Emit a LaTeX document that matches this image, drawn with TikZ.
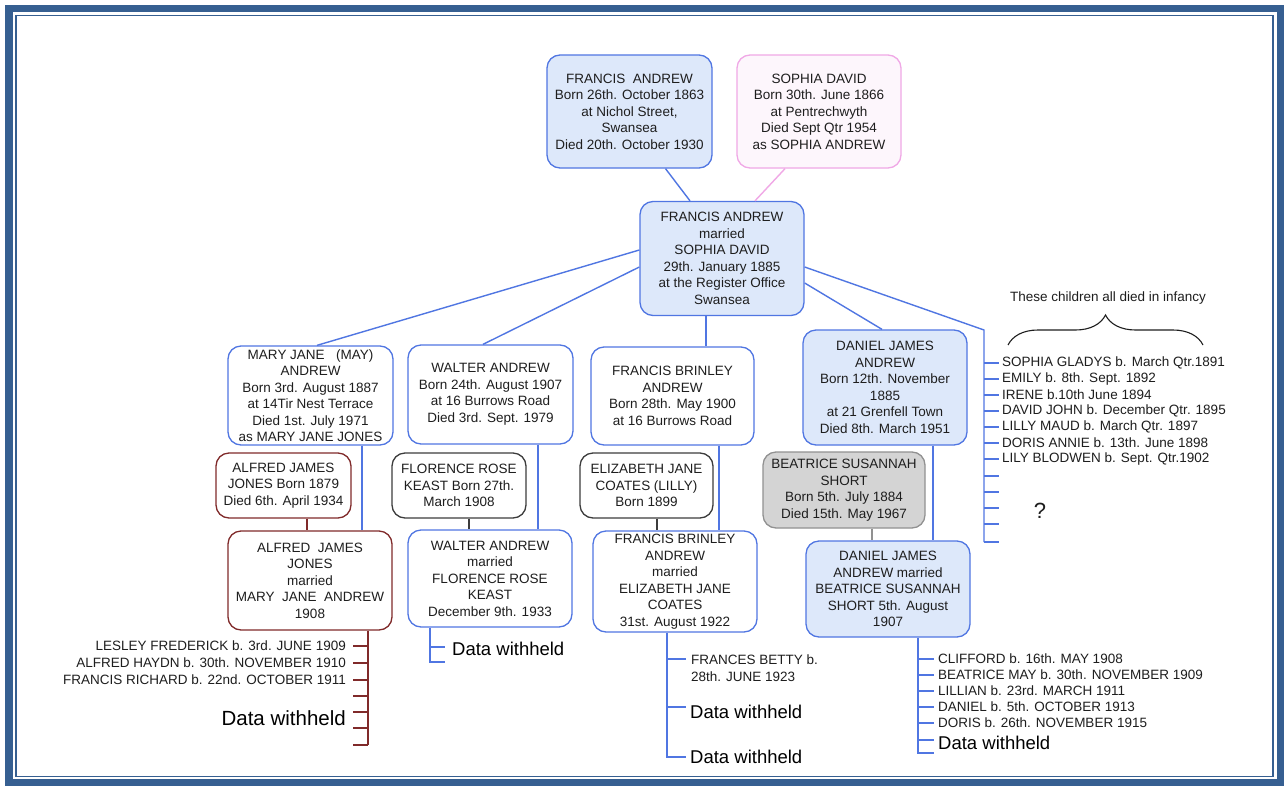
\documentclass[tikz,border=0pt]{standalone}
\usepackage{fontspec}
\setmainfont{Liberation Sans}
\usetikzlibrary{decorations.pathreplacing,calc}
\definecolor{framec}{RGB}{54,95,145}
\definecolor{bluel}{RGB}{80,118,226}
\definecolor{lightblue}{RGB}{221,232,250}
\definecolor{pinkl}{RGB}{240,168,230}
\definecolor{pinkfill}{RGB}{253,246,252}
\definecolor{redl}{RGB}{128,42,42}
\definecolor{darkl}{RGB}{60,60,60}
\definecolor{grayfill}{RGB}{212,212,212}
\definecolor{grayl}{RGB}{145,145,145}
\definecolor{txt}{RGB}{30,30,30}
\begin{document}
\begin{tikzpicture}[x=1pt,y=-1pt,
  box/.style={draw, rounded corners=13pt, align=center, inner sep=2pt,
    font=\fontsize{13.5}{16.5}\selectfont, text=txt, line width=1.3pt},
  bluebox/.style={box, draw=bluel, fill=white},
  lbbox/.style={box, draw=bluel, fill=lightblue},
  pinkbox/.style={box, draw=pinkl, fill=pinkfill},
  redbox/.style={box, draw=redl, fill=white},
  darkbox/.style={box, draw=darkl, fill=white},
  graybox/.style={box, draw=grayl, fill=grayfill},
  bline/.style={draw=bluel, line width=1.4pt},
  rline/.style={draw=redl, line width=1.4pt},
  dline/.style={draw=darkl, line width=1.4pt},
  gline/.style={draw=grayl, line width=1.4pt},
  pline/.style={draw=pinkl, line width=1.4pt},
  lt/.style={font=\fontsize{13.5}{16.5}\selectfont, inner sep=0pt, text=txt},
  dw/.style={font=\fontsize{18.5}{20}\selectfont, inner sep=0pt, text=black},
]
\useasboundingbox (0,0) rectangle (1287,787);
\fill[white] (0,0) rectangle (1287,787);
% frame
\draw[framec, line width=7.5pt] (9,8.5) rectangle (1280.5,782.5);
\draw[framec, line width=1.8pt] (16,15.5) rectangle (1273,776.5);

% parents
\node[lbbox, minimum width=165pt, minimum height=113pt] (fa) at (629.5,111.5)
  {FRANCIS\ \ ANDREW\\Born 26th. October 1863\\at Nichol Street,\\Swansea\\Died 20th. October 1930};
\node[pinkbox, minimum width=164pt, minimum height=113pt] (sd) at (819,111.5)
  {SOPHIA DAVID\\Born 30th. June 1866\\at Pentrechwyth\\Died Sept Qtr 1954\\as SOPHIA ANDREW};
\node[lbbox, minimum width=164pt, minimum height=114pt] (c) at (722,258.5)
  {FRANCIS ANDREW\\married\\SOPHIA DAVID\\29th. January 1885\\at the Register Office\\Swansea};
\draw[bline] ([xshift=36pt]fa.south) -- ([xshift=-32pt]c.north);
\draw[pline] ([xshift=-34pt]sd.south) -- ([xshift=33pt]c.north);

% children
\node[bluebox, minimum width=165pt, minimum height=99pt] (mj) at (310.5,395.5)
  {MARY JANE\ \ \ (MAY)\\ANDREW\\Born 3rd. August 1887\\at 14Tir Nest Terrace\\Died 1st. July 1971\\as MARY JANE JONES};
\node[bluebox, minimum width=165pt, minimum height=99pt] (wa) at (490.5,394.5)
  {WALTER ANDREW\\Born 24th. August 1907\\at 16 Burrows Road\\Died 3rd. Sept. 1979};
\node[bluebox, minimum width=163pt, minimum height=98pt] (fb) at (672.5,396)
  {FRANCIS BRINLEY\\ANDREW\\Born 28th. May 1900\\at 16 Burrows Road};
\node[lbbox, minimum width=164pt, minimum height=115pt] (dj) at (885,387.5)
  {DANIEL JAMES\\ANDREW\\Born 12th. November\\1885\\at 21 Grenfell Town\\Died 8th. March 1951};

\coordinate (inftop) at (984,330);
\coordinate (infbot) at (984,542);
\draw[bline] ([yshift=8.5pt]c.west) -- ([xshift=6.5pt]mj.north);
\draw[bline] ([yshift=-8.5pt]c.west) -- ([xshift=-7.5pt]wa.north);
\draw[bline] ([xshift=-16pt]c.south) -- ([xshift=-16pt]c.south |- fb.north);
\draw[bline] ([yshift=-24.5pt]c.east) -- ([xshift=-3pt]dj.north);
\draw[bline] ([yshift=-8.5pt]c.east) -- (inftop) -- (infbot);

% spouses
\node[redbox, minimum width=135pt, minimum height=65pt] (ajj) at (283.5,485.5)
  {ALFRED JAMES\\JONES Born 1879\\Died 6th. April 1934};
\node[darkbox, minimum width=134pt, minimum height=65pt] (frk) at (459,485.5)
  {FLORENCE ROSE\\KEAST Born 27th.\\March 1908};
\node[darkbox, minimum width=133pt, minimum height=65pt] (ejc) at (646.5,485.5)
  {ELIZABETH JANE\\COATES (LILLY)\\Born 1899};
\node[graybox, minimum width=162pt, minimum height=76pt] (bss) at (844,490)
  {BEATRICE SUSANNAH\\SHORT\\Born 5th. July 1884\\Died 15th. May 1967};

% marriages
\node[redbox, minimum width=164pt, minimum height=99pt] (ajjm) at (310,580.5)
  {ALFRED\ \ JAMES\\JONES\\married\\MARY\ \ JANE\ \ ANDREW\\1908};
\node[bluebox, minimum width=164pt, minimum height=97pt] (wam) at (490,578.5)
  {WALTER ANDREW\\married\\FLORENCE ROSE\\KEAST\\December 9th. 1933};
\node[bluebox, minimum width=164pt, minimum height=101pt] (fbm) at (675,581.5)
  {FRANCIS BRINLEY\\ANDREW\\married\\ELIZABETH JANE\\COATES\\31st. August 1922};
\node[lbbox, minimum width=164pt, minimum height=96pt] (djm) at (888,589)
  {DANIEL JAMES\\ANDREW married\\BEATRICE SUSANNAH\\SHORT 5th. August\\1907};

\draw[bline] ([xshift=51.5pt]mj.south) -- ([xshift=51.5pt]mj.south |- ajjm.north);
\draw[rline] ([xshift=23.5pt]ajj.south) -- ([xshift=23.5pt]ajj.south |- ajjm.north);
\draw[bline] ([xshift=47.5pt]wa.south) -- ([xshift=47.5pt]wa.south |- wam.north);
\draw[dline] ([xshift=10pt]frk.south) -- ([xshift=10pt]frk.south |- wam.north);
\draw[bline] ([xshift=46.5pt]fb.south) -- ([xshift=46.5pt]fb.south |- fbm.north);
\draw[dline] ([xshift=10.5pt]ejc.south) -- ([xshift=10.5pt]ejc.south |- fbm.north);
\draw[bline] ([xshift=48pt]dj.south) -- ([xshift=48pt]dj.south |- djm.north);
\draw[gline] ([xshift=28pt]bss.south) -- ([xshift=28pt]bss.south |- djm.north);

% infancy list
\foreach \y in {363,379,395,411,427,443,459,476,492,508,524,542}
  \draw[bline] (984,\y) -- (999,\y);
\node[lt, anchor=west] (i1) at (1002,363) {SOPHIA GLADYS b. March Qtr.1891};
\node[lt, anchor=west] (i2) at (1002,379) {EMILY b. 8th. Sept. 1892};
\node[lt, anchor=west] (i3) at (1002,395) {IRENE b.10th June 1894};
\node[lt, anchor=west] (i4) at (1002,411) {DAVID JOHN b. December Qtr. 1895};
\node[lt, anchor=west] (i5) at (1002,427) {LILLY MAUD b. March Qtr. 1897};
\node[lt, anchor=west] (i6) at (1002,443) {DORIS ANNIE b. 13th. June 1898};
\node[lt, anchor=west] (i7) at (1002,459) {LILY BLODWEN b. Sept. Qtr.1902};
\node[font=\fontsize{22}{24}\selectfont, text=txt, inner sep=0pt] (q) at (1040,511) {?};
\node[lt] (inf) at (1108,298) {These children all died in infancy};
\draw[txt, line width=1.1pt, decorate, decoration={brace, amplitude=30pt, aspect=0.5}]
  (1008,345) -- (1203,345);

% Alfred list
\coordinate (alb) at (368,745);
\draw[rline] ([xshift=58pt]ajjm.south) -- (alb);
\foreach \y in {646,663,680,696,712,728,745}
  \draw[rline] (353,\y) -- (368,\y);
\node[lt, anchor=east] (a1) at (346,646) {LESLEY FREDERICK b. 3rd. JUNE 1909};
\node[lt, anchor=east] (a2) at (346,663) {ALFRED HAYDN b. 30th. NOVEMBER 1910};
\node[lt, anchor=east] (a3) at (346,680) {FRANCIS RICHARD b. 22nd. OCTOBER 1911};
\node[dw, font=\fontsize{20.5}{22}\selectfont, anchor=east] (a4) at (346,718) {Data withheld};

% Walter list
\coordinate (wlb) at (430,662);
\draw[bline] ([xshift=-60pt]wam.south) -- (wlb) -- (445,662);
\draw[bline] (430,647) -- (445,647);
\node[dw, anchor=west] (w1) at (452,649) {Data withheld};

% Francis Brinley list
\coordinate (flb) at (667,757);
\draw[bline] ([xshift=-8pt]fbm.south) -- (flb) -- (686,757);
\draw[bline] (667,659) -- (686,659);
\draw[bline] (667,707) -- (686,707);
\node[lt, anchor=west, align=left] (f1) at (691,668) {FRANCES BETTY b.\\28th. JUNE 1923};
\node[dw, anchor=west] (f2) at (690,712) {Data withheld};
\node[dw, anchor=west] (f3) at (690,757) {Data withheld};

% Daniel list
\coordinate (dlb) at (918,753);
\draw[bline] ([xshift=30pt]djm.south) -- (dlb) -- (934,753);
\foreach \y in {659,675,691,707,723,740}
  \draw[bline] (918,\y) -- (934,\y);
\node[lt, anchor=west] (d1) at (938,659) {CLIFFORD b. 16th. MAY 1908};
\node[lt, anchor=west] (d2) at (938,675) {BEATRICE MAY b. 30th. NOVEMBER 1909};
\node[lt, anchor=west] (d3) at (938,691) {LILLIAN b. 23rd. MARCH 1911};
\node[lt, anchor=west] (d4) at (938,707) {DANIEL b. 5th. OCTOBER 1913};
\node[lt, anchor=west] (d5) at (938,723) {DORIS b. 26th. NOVEMBER 1915};
\node[dw, anchor=west] (d6) at (938,743) {Data withheld};
\end{tikzpicture}
\end{document}
